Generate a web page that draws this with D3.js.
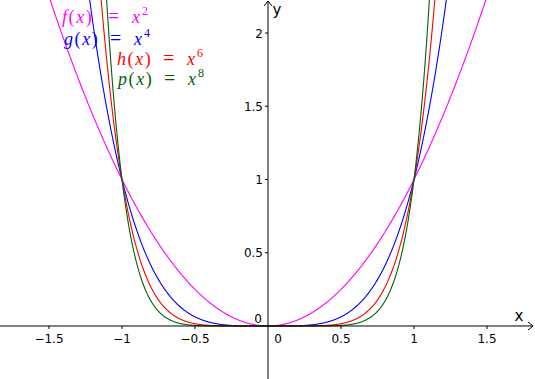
<!DOCTYPE html>
<html><head><meta charset="utf-8">
<script src="https://cdn.jsdelivr.net/npm/d3@7/dist/d3.min.js"></script>
<style>body{margin:0;background:#fff}svg{display:block}</style>
</head><body><svg id="c" width="535" height="379"></svg>
<script>
const names = ["f", "g", "h", "p"];
const exponents = [2, 4, 6, 8];
const colors = ["#ff00ff", "#0000ff", "#ff0000", "#006400"];
const xTicks = [-1.5, -1, -0.5, 0.5, 1, 1.5];
const yTicks = [0.5, 1, 1.5, 2];

const W = 535, H = 379;
const x = d3.scaleLinear().domain([-1.8356, 1.8288]).range([0, W]);
const y = d3.scaleLinear().domain([-0.3618, 2.2253]).range([H, 0]);
const svg = d3.select("#c");
svg.append("defs").append("clipPath").attr("id","clip").append("rect").attr("width",W).attr("height",H);

const fmt = v => String(v).replace("-", "\u2212");
const axisColor = "#000";
const font = "'DejaVu Sans', sans-serif";

// curves
const xs = d3.range(-1.84, 1.8401, 0.002);
const line = d3.line().x(d => x(d[0])).y(d => y(d[1]));
const g = svg.append("g").attr("clip-path","url(#clip)");
exponents.forEach((n, i) => {
  g.append("path").datum(xs.map(v => [v, Math.pow(v, n)]))
   .attr("d", line).attr("fill","none").attr("stroke", colors[i]).attr("stroke-width", 1.1);
});

// axes
const x0 = x(0), y0 = y(0);
svg.append("line").attr("x1",0).attr("x2",W-2).attr("y1",y0).attr("y2",y0).attr("stroke",axisColor);
svg.append("line").attr("x1",x0).attr("x2",x0).attr("y1",1).attr("y2",H).attr("stroke",axisColor);
svg.append("path").attr("d",`M${W-7},${y0-4}L${W-2},${y0}L${W-7},${y0+4}`).attr("fill","none").attr("stroke",axisColor);
svg.append("path").attr("d",`M${x0-4},${6}L${x0},${1}L${x0+4},${6}`).attr("fill","none").attr("stroke",axisColor);

xTicks.forEach(t => {
  svg.append("line").attr("x1",x(t)).attr("x2",x(t)).attr("y1",y0).attr("y2",y0+3).attr("stroke",axisColor);
  svg.append("text").attr("x",x(t)).attr("y",y0+17).attr("text-anchor","middle")
    .attr("font-family",font).attr("font-size",12).text(fmt(t));
});
yTicks.forEach(t => {
  svg.append("line").attr("x1",x0-3).attr("x2",x0).attr("y1",y(t)).attr("y2",y(t)).attr("stroke",axisColor);
  svg.append("text").attr("x",x0-5).attr("y",y(t)+4.5).attr("text-anchor","end")
    .attr("font-family",font).attr("font-size",12).text(fmt(t));
});
svg.append("text").attr("x",x0-6).attr("y",y0-3).attr("text-anchor","end").attr("font-family",font).attr("font-size",12).text("0");
svg.append("text").attr("x",x0+10).attr("y",y0+17).attr("text-anchor","middle").attr("font-family",font).attr("font-size",12).text("0");
svg.append("text").attr("x",W-16).attr("y",y0-5).attr("text-anchor","middle").attr("font-family",font).attr("font-size",15).text("x");
svg.append("text").attr("x",x0+9).attr("y",15).attr("text-anchor","middle").attr("font-family",font).attr("font-size",15).text("y");

// legend labels
const labelPos = [[62, 23], [64, 45], [117, 65], [118, 85]];
const serif = "'Liberation Serif', 'Times New Roman', serif";
names.forEach((nm, i) => {
  const [lx, ly] = labelPos[i];
  const t = svg.append("text").attr("x",lx).attr("y",ly)
    .attr("font-family",serif).attr("font-size",18).attr("fill",colors[i]);
  const head = t.append("tspan").attr("letter-spacing",1.6);
  head.append("tspan").attr("font-style","italic").text(nm);
  head.append("tspan").text("(");
  head.append("tspan").attr("font-style","italic").text("x");
  head.append("tspan").text(")");
  t.append("tspan").attr("x",lx+46).attr("font-size",20).text("=");
  t.append("tspan").attr("x",lx+70).attr("font-style","italic").text("x");
  t.append("tspan").attr("x",lx+80).attr("dy",-8).attr("font-size",12).text(exponents[i]);
});
</script></body></html>
